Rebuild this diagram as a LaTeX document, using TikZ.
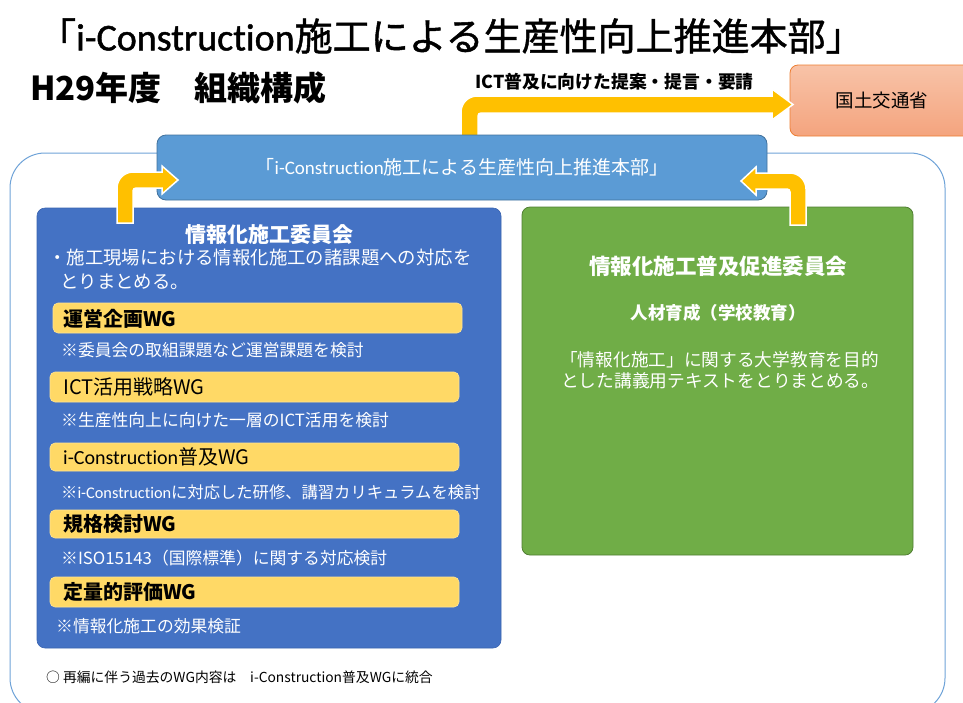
\documentclass[tikz,border=0pt]{standalone}
\usepackage{fontspec}
\setmainfont{Noto Sans CJK JP}
\newfontfamily\lat{Carlito}[Ligatures={NoCommon,NoRequired,NoContextual}]
\newfontfamily\titlecjk{Noto Sans CJK JP}[FakeBold=1.2]
\newfontfamily\titlelat{Carlito}[FakeBold=1.2,Ligatures={NoCommon,NoRequired,NoContextual}]
\definecolor{frameblue}{HTML}{6FA3D8}
\definecolor{hqblue}{HTML}{5B9BD5}
\definecolor{hqborder}{HTML}{41719C}
\definecolor{leftblue}{HTML}{4472C4}
\definecolor{leftborder}{HTML}{3A64B0}
\definecolor{greenfill}{HTML}{70AD47}
\definecolor{greenborder}{HTML}{507E32}
\definecolor{wgyellow}{HTML}{FFD966}
\definecolor{arrowyel}{HTML}{FFC000}
\definecolor{orangetop}{HTML}{F8C3A8}
\definecolor{orangebot}{HTML}{F4A47E}
\definecolor{orangeedge}{HTML}{ED7D31}
\begin{document}
\begin{tikzpicture}[x=1pt,y=-1pt,
  panel/.style={anchor=north west,inner sep=0pt,outer sep=0pt,rounded corners=8pt},
  wgbar/.style={panel,fill=wgyellow,draw=wgyellow!70!white,line width=0.6pt,rounded corners=5pt},
  wgtext/.style={anchor=west,inner sep=0pt,text=black,font=\fontsize{20}{22}\selectfont},
  notetext/.style={anchor=west,inner sep=0pt,text=white,font=\fontsize{16.8}{19}\selectfont},
  bigarrow/.style={fill=arrowyel,draw=white,line width=1.5pt,line join=miter},
  txt/.style={inner sep=0pt}]
\clip (0,0) rectangle (963,702);
\fill[white] (0,0) rectangle (963,702);

% title
\node[txt,anchor=west] (title) at (38,36) {\fontsize{38}{42}\selectfont\titlecjk 「{\titlelat i-Construction}施工による生産性向上推進本部」};
\node[txt,anchor=west] (year) at (30,88) {\fontsize{33}{36}\selectfont\bfseries H29年度　組織構成};

% outer frame
\node[panel,draw=frameblue,line width=1pt,rounded corners=35pt,minimum width=935pt,minimum height=560pt] (frame) at (10,153) {};

% ministry box
\node[panel,top color=orangetop,bottom color=orangebot,draw=orangeedge,line width=0.8pt,minimum width=200pt,minimum height=71pt] (mlit) at (790,65) {};
\node[txt] (mlittext) at (882,100) {\fontsize{18.5}{20}\selectfont 国土交通省};

% top arrow
\path[bigarrow] (461,137) -- (461,112) .. controls (461,103.2) and (468.2,96) .. (477,96)
  -- (772,96) -- (772,89) -- (793,104.5) -- (772,120) -- (772,113) -- (481,113)
  .. controls (479.3,113) and (478,114.3) .. (478,116) -- (478,137) -- cycle;
\node[txt,anchor=west] (proposal) at (475,82) {\fontsize{17.8}{20}\selectfont\bfseries ICT普及に向けた提案・提言・要請};

% headquarters box
\node[panel,fill=hqblue,draw=hqborder,line width=0.8pt,rounded corners=9pt,minimum width=610pt,minimum height=65pt] (hq) at (157,135) {};
\node[txt,text=white] (hqtext) at (462,167) {\fontsize{19}{21}\selectfont 「{\lat i-Construction}施工による生産性向上推進本部」};

% left committee box
\node[panel,fill=leftblue,draw=leftborder,line width=0.6pt,minimum width=464pt,minimum height=440pt] (left) at (37,208) {};
\node[txt,text=white] (lefttitle) at (269,235) {\fontsize{21}{23}\selectfont\bfseries 情報化施工委員会};
\node[txt,anchor=west,text=white] (leftdesc1) at (48,258) {\fontsize{18.4}{20}\selectfont ・施工現場における情報化施工の諸課題への対応を};
\node[txt,anchor=west,text=white] (leftdesc2) at (60,282) {\fontsize{18.4}{20}\selectfont とりまとめる。};

\node[wgbar,minimum width=409pt,minimum height=30pt] (wg1) at (53,303) {};
\node[wgtext] (wg1t) at (63,319) {\bfseries 運営企画WG};
\node[notetext] (note1) at (61,350) {※委員会の取組課題など運営課題を検討};

\node[wgbar,minimum width=409pt,minimum height=30pt] (wg2) at (50,372) {};
\node[wgtext] (wg2t) at (63,387) {ICT活用戦略WG};
\node[notetext] (note2) at (61,420) {※生産性向上に向けた一層のICT活用を検討};

\node[wgbar,minimum width=409pt,minimum height=28pt] (wg3) at (50,443) {};
\node[wgtext] (wg3t) at (63,457) {{\lat i-Construction}普及WG};
\node[notetext,font=\fontsize{16.3}{19}\selectfont] (note3) at (61,492) {※{\lat i-Construction}に対応した研修、講習カリキュラムを検討};

\node[wgbar,minimum width=409pt,minimum height=28pt] (wg4) at (50,510) {};
\node[wgtext] (wg4t) at (63,524) {\bfseries 規格検討WG};
\node[notetext] (note4) at (61,558) {※ISO15143（国際標準）に関する対応検討};

\node[wgbar,minimum width=409pt,minimum height=30pt] (wg5) at (50,577) {};
\node[wgtext] (wg5t) at (63,592) {\bfseries 定量的評価WG};
\node[notetext] (note5) at (56,626) {※情報化施工の効果検証};

% green box
\node[panel,fill=greenfill,draw=greenborder,line width=0.8pt,minimum width=391pt,minimum height=348pt] (green) at (522,207) {};
\node[txt,text=white] (greentitle) at (718,266) {\fontsize{21.5}{23}\selectfont\bfseries 情報化施工普及促進委員会};
\node[txt,text=white] (greensub) at (718,313) {\fontsize{17.5}{19}\selectfont\bfseries 人材育成（学校教育）};
\node[txt,anchor=west,text=white] (greendesc1) at (560,360) {\fontsize{17.7}{19}\selectfont 「情報化施工」に関する大学教育を目的};
\node[txt,anchor=west,text=white] (greendesc2) at (561,381) {\fontsize{17.7}{19}\selectfont とした講義用テキストをとりまとめる。};

% footnote
\node[txt,anchor=west] (foot) at (46,677) {\fontsize{13.8}{15}\selectfont ○ 再編に伴う過去のWG内容は　i-Construction普及WGに統合};

% side arrows
\path[bigarrow] (117,223) -- (117,188) .. controls (117,179.2) and (124.2,172) .. (133,172)
  -- (162,172) -- (162,166) -- (178,180) -- (162,194) -- (162,188) -- (136,188)
  .. controls (134.3,188) and (133,189.3) .. (133,191) -- (133,223) -- cycle;
\path[bigarrow] (806,225) -- (806,189) .. controls (806,180.2) and (798.8,173) .. (790,173)
  -- (756,173) -- (756,167) -- (741,181) -- (756,195) -- (756,189) -- (787,189)
  .. controls (788.7,189) and (790,190.3) .. (790,192) -- (790,225) -- cycle;
\end{tikzpicture}
\end{document}
